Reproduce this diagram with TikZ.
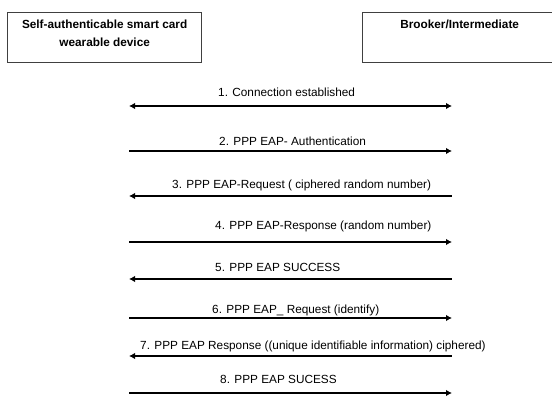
\documentclass[tikz,border=0pt]{standalone}
\usepackage{fontspec}
\setmainfont{Liberation Sans}
\usetikzlibrary{positioning}
\usetikzlibrary{arrows.meta}

\begin{document}
\begin{tikzpicture}[x=1pt, y=-1pt, >={Latex[length=6pt,width=6.5pt]},
		entitybox/.style={rectangle, draw=black!75, line width=1.3pt, minimum width=194pt, minimum height=50pt, anchor=north west},
		entitytext/.style={inner sep=0pt, align=center, font=\bfseries\fontsize{11.8}{17.5}\selectfont},
		msgtext/.style={anchor=base west, inner sep=0pt, font=\fontsize{11.8}{13}\selectfont},
		msgline/.style={line width=1.8pt},
		]
		\useasboundingbox (0,0) rectangle (552,397);
		
		%Nodes
		\node[entitybox]  (card)        at (7,12)    {};
		\node[entitytext] (card-text)   [below=8pt of card.north]   {Self-authenticable smart card\\wearable device};
		\node[entitybox]  (broker)      at (362,12)  {};
		\node[entitytext] (broker-text) [below=8pt of broker.north] {Brooker/Intermediate};
		
		% end points of the messages
		\foreach \y [count=\i] in {106,151,196,242,279,318,356,393} {
			\coordinate (card-\i)   at (129,\y);
			\coordinate (broker-\i) at (452,\y);
		}
		
		\node[msgtext] (msg-1) at (218,96)  {1. Connection established};
		\node[msgtext] (msg-2) at (219,145) {2. PPP EAP- Authentication};
		\node[msgtext] (msg-3) at (172,188) {3. PPP EAP-Request ( ciphered random number)};
		\node[msgtext] (msg-4) at (215,229) {4. PPP EAP-Response (random number)};
		\node[msgtext] (msg-5) at (215,271) {5. PPP EAP SUCCESS};
		\node[msgtext] (msg-6) at (212,313) {6. PPP EAP\_ Request (identify)};
		\node[msgtext] (msg-7) at (140,349) {7. PPP EAP Response ((unique identifiable information) ciphered)};
		\node[msgtext] (msg-8) at (220,383) {8. PPP EAP SUCESS};
		
		%Lines
		\draw[msgline, <->] (card-1) -- (broker-1);
		\draw[msgline, ->]  (card-2) -- (broker-2);
		\draw[msgline, <-]  (card-3) -- (broker-3);
		\draw[msgline, ->]  (card-4) -- (broker-4);
		\draw[msgline, <-]  (card-5) -- (broker-5);
		\draw[msgline, ->]  (card-6) -- (broker-6);
		\draw[msgline, <-]  (card-7) -- (broker-7);
		\draw[msgline, ->]  (card-8) -- (broker-8);
		
	\end{tikzpicture}
\end{document}
